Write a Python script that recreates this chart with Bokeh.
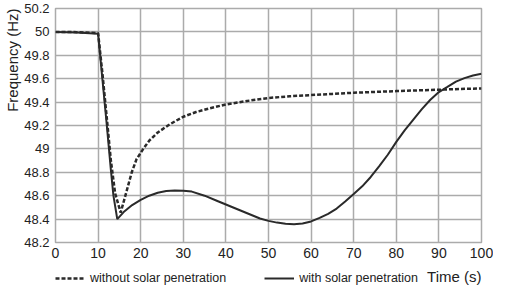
from bokeh.plotting import figure
from bokeh.layouts import column
from bokeh.models import Legend, LegendItem, FixedTicker, Range1d, Title, Label
from bokeh.embed import file_html
from bokeh.resources import INLINE

# ---- data ----
t_without = [0, 5, 10, 11, 12, 13, 14, 15.3, 16.4, 17.9, 19, 20.6, 22, 24, 26.4, 28, 30,
             33, 36, 40, 45, 50, 55, 60, 65, 70, 75, 80, 85, 90, 95, 100]
f_without = [50.0, 49.998, 49.99, 49.65, 49.28, 48.9, 48.62, 48.456, 48.6, 48.8, 48.91,
             49.0, 49.07, 49.14, 49.2, 49.235, 49.275, 49.315, 49.345, 49.38, 49.41,
             49.435, 49.45, 49.46, 49.47, 49.48, 49.487, 49.494, 49.5, 49.506, 49.512, 49.517]

t_with = [0, 5, 10, 11, 12, 13, 13.6, 14.5, 16, 18, 20, 22, 24, 26, 28, 30, 32, 35, 38,
          40, 42, 45, 48, 50, 52, 54, 56, 58, 60, 62, 64, 66, 68, 70, 72, 74, 76, 78, 80,
          82, 84, 86, 88, 90, 92, 94, 96, 98, 100]
f_with = [50.0, 49.995, 49.985, 49.6, 49.22, 48.82, 48.6, 48.4, 48.46, 48.52, 48.565,
          48.6, 48.625, 48.64, 48.645, 48.643, 48.635, 48.6, 48.555, 48.525, 48.495,
          48.45, 48.405, 48.385, 48.37, 48.36, 48.357, 48.362, 48.38, 48.41, 48.445,
          48.49, 48.55, 48.614, 48.68, 48.76, 48.853, 48.95, 49.06, 49.16, 49.25, 49.34,
          49.42, 49.486, 49.53, 49.575, 49.605, 49.628, 49.643]

x_ticks = [0, 10, 20, 30, 40, 50, 60, 70, 80, 90, 100]
y_ticks = [48.2, 48.4, 48.6, 48.8, 49.0, 49.2, 49.4, 49.6, 49.8, 50.0, 50.2]
y_tick_labels = ["48.2", "48.4", "48.6", "48.8", "49", "49.2", "49.4", "49.6", "49.8", "50", "50.2"]

series_names = ["without solar penetration", "with solar penetration"]
x_title = "Time (s)"
y_title = "Frequency (Hz)"

FONT = "Liberation Sans"
TXT = "#222222"
LINE = "#2a2a2a"
GRID = "#ababab"
DASH = "4 2"

W = 493
H_MAIN = 262
H_LEG = 24

p = figure(width=W, height=H_MAIN, output_backend="svg", toolbar_location=None,
           x_range=Range1d(0, 100), y_range=Range1d(48.2, 50.2),
           min_border_left=40, min_border_right=12, min_border_top=8, min_border_bottom=20)

p.outline_line_color = GRID
p.outline_line_width = 1.5

for ax in (p.xaxis[0], p.yaxis[0]):
    ax.axis_line_color = None
    ax.major_tick_line_color = None
    ax.minor_tick_line_color = None
    ax.major_tick_out = 0
    ax.major_tick_in = 0
    ax.major_label_text_font = FONT
    ax.major_label_text_color = TXT

p.xaxis.ticker = FixedTicker(ticks=x_ticks)
p.yaxis.ticker = FixedTicker(ticks=y_ticks)
p.yaxis.major_label_overrides = {v: s for v, s in zip(y_ticks, y_tick_labels)}
p.xaxis.major_label_text_font_size = "14px"
p.yaxis.major_label_text_font_size = "13px"
p.xaxis.major_label_standoff = 5
p.yaxis.major_label_standoff = 6

p.grid.grid_line_color = GRID
p.grid.grid_line_width = 1.5

p.line(t_without, f_without, line_color=LINE, line_width=2.5, line_dash=DASH)
p.line(t_with, f_with, line_color=LINE, line_width=2)

p.add_layout(Title(text=y_title, align="right", text_font=FONT, text_font_size="15px",
                   text_font_style="normal", text_color=TXT, standoff=2, offset=0), "left")

# ---- legend strip with the x-axis title (frame aligned with the plot above) ----
nan = float("nan")
q = figure(width=W, height=H_LEG, output_backend="svg", toolbar_location=None,
           x_range=Range1d(0, 100), y_range=Range1d(0, H_LEG),
           x_axis_type=None, y_axis_type=None, min_border=0)
q.outline_line_color = None
q.grid.visible = False
s1 = q.line(x=[nan], y=[nan], line_color=LINE, line_width=2.5, line_dash=DASH)
s2 = q.line(x=[nan], y=[nan], line_color=LINE, line_width=2)

legend = Legend(items=[LegendItem(label=series_names[0], renderers=[s1]),
                       LegendItem(label=series_names[1], renderers=[s2])],
                orientation="horizontal", location=(0, 1),
                glyph_width=30, glyph_height=12, label_standoff=5, spacing=38,
                padding=0, margin=0, border_line_color=None, background_fill_alpha=0,
                label_text_font=FONT, label_text_font_size="12.5px",
                label_text_color=TXT, label_height=12)
q.add_layout(legend, "center")

q.add_layout(Label(x=100, y=H_LEG - 5, text=x_title, text_align="right", text_baseline="top",
                   text_font=FONT, text_font_size="15px", text_color=TXT))

open("out.html", "w").write(file_html(column(p, q, spacing=0), INLINE))
